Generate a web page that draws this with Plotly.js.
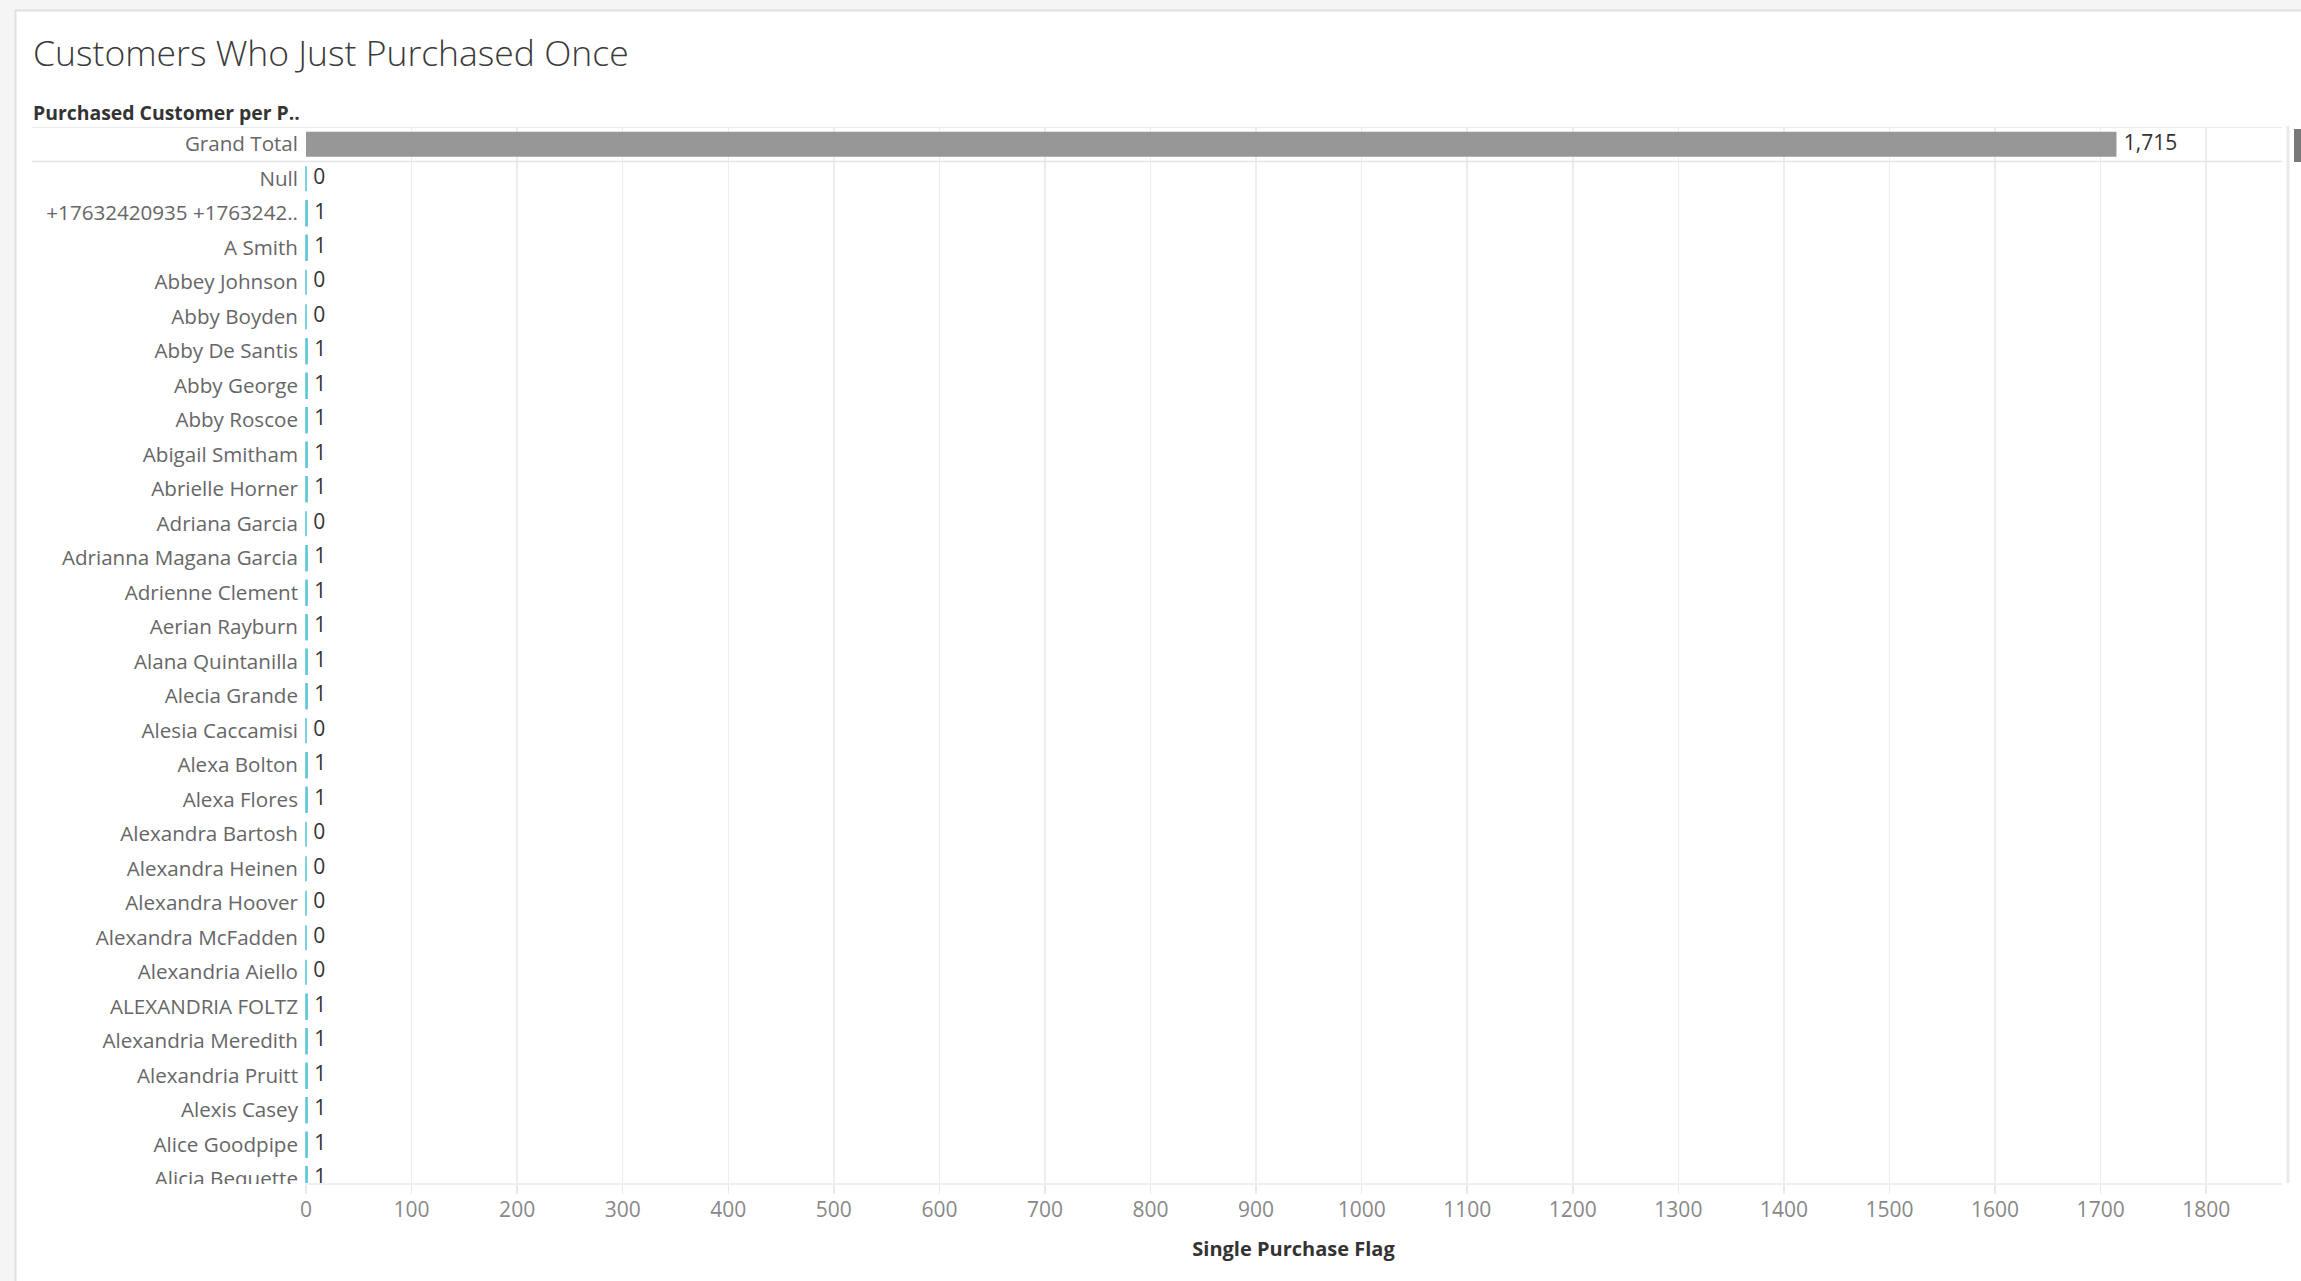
<!DOCTYPE html>
<html>
<head>
<meta charset="utf-8">
<script src="https://cdn.plot.ly/plotly-3.0.1.min.js"></script>
<style>
  html, body { margin: 0; padding: 0; background: #ffffff; }
  #chart { width: 2301px; height: 1281px; }
</style>
</head>
<body>
<div id="chart"></div>
<script>
// ---- data ----
const grandTotalLabel = 'Grand Total';
const grandTotalValue = 1715;

const customerNames = [
  'Null',
  '+17632420935 +1763242..',
  'A Smith',
  'Abbey Johnson',
  'Abby Boyden',
  'Abby De Santis',
  'Abby George',
  'Abby Roscoe',
  'Abigail Smitham',
  'Abrielle Horner',
  'Adriana Garcia',
  'Adrianna Magana Garcia',
  'Adrienne Clement',
  'Aerian Rayburn',
  'Alana Quintanilla',
  'Alecia Grande',
  'Alesia Caccamisi',
  'Alexa Bolton',
  'Alexa Flores',
  'Alexandra Bartosh',
  'Alexandra Heinen',
  'Alexandra Hoover',
  'Alexandra McFadden',
  'Alexandria Aiello',
  'ALEXANDRIA FOLTZ',
  'Alexandria Meredith',
  'Alexandria Pruitt',
  'Alexis Casey',
  'Alice Goodpipe',
  'Alicia Bequette'
];

const singlePurchaseFlag = [
  0, 1, 1, 0, 0, 1, 1, 1, 1, 1,
  0, 1, 1, 1, 1, 1, 0, 1, 1, 0,
  0, 0, 0, 0, 1, 1, 1, 1, 1, 1
];

const xTickValues = [0, 100, 200, 300, 400, 500, 600, 700, 800, 900,
                     1000, 1100, 1200, 1300, 1400, 1500, 1600, 1700, 1800];

// ---- geometry ----
const W = 2301, H = 1281;
const M = { l: 305, r: 19, t: 127, b: 98 };
const PW = W - M.l - M.r;
const PH = H - M.t - M.b;
// pixel -> paper coordinates
const px = x => (x - M.l) / PW;
const py = y => (H - M.b - y) / PH;

const FONT = 'Open Sans, Noto Sans, sans-serif';
const TEAL = '#5cc6da';
const GREY_BAR = '#979797';

const allCategories = [grandTotalLabel].concat(customerNames);
const allValues = [grandTotalValue].concat(singlePurchaseFlag);
const allText = allValues.map(v => v.toLocaleString('en-US'));

const traces = [
  {
    type: 'bar',
    orientation: 'h',
    y: [grandTotalLabel],
    x: [grandTotalValue],
    width: 0.72,
    marker: { color: GREY_BAR },
    hoverinfo: 'skip',
    showlegend: false
  },
  {
    type: 'bar',
    orientation: 'h',
    y: customerNames,
    x: singlePurchaseFlag,
    width: 0.72,
    marker: { color: TEAL, line: { color: TEAL, width: 1.6 } },
    hoverinfo: 'skip',
    showlegend: false
  },
  {
    // value labels; the invisible marker keeps a small gap after each bar end
    type: 'scatter',
    mode: 'markers+text',
    y: allCategories,
    x: allValues,
    text: allText,
    textposition: 'middle right',
    marker: { size: 10, color: 'rgba(0,0,0,0)' },
    textfont: { family: FONT, size: 21, color: '#333333' },
    cliponaxis: true,
    hoverinfo: 'skip',
    showlegend: false
  }
];

const shapes = [
  // outer frame background (left and top)
  { type: 'rect', xref: 'paper', yref: 'paper', x0: px(0), x1: px(15), y0: py(0), y1: py(H),
    fillcolor: '#f5f5f5', line: { width: 0 }, layer: 'above' },
  { type: 'rect', xref: 'paper', yref: 'paper', x0: px(0), x1: px(W), y0: py(0), y1: py(10),
    fillcolor: '#f5f5f5', line: { width: 0 }, layer: 'above' },
  { type: 'line', xref: 'paper', yref: 'paper', x0: px(15.5), x1: px(15.5), y0: py(10), y1: py(H),
    line: { color: '#e0e0e0', width: 2 }, layer: 'above' },
  { type: 'line', xref: 'paper', yref: 'paper', x0: px(15), x1: px(W), y0: py(10.5), y1: py(10.5),
    line: { color: '#e0e0e0', width: 2 }, layer: 'above' },
  // grand total row dividers
  { type: 'line', xref: 'paper', yref: 'y', x0: px(32), x1: 1, y0: -0.5, y1: -0.5,
    line: { color: '#e4e4e4', width: 1.5 }, layer: 'above' },
  { type: 'line', xref: 'paper', yref: 'y', x0: px(32), x1: 1, y0: 0.5, y1: 0.5,
    line: { color: '#e4e4e4', width: 1.5 }, layer: 'above' },
  // scroll track and thumb
  { type: 'line', xref: 'paper', yref: 'paper', x0: px(2288), x1: px(2288), y0: py(126), y1: py(1183),
    line: { color: '#eaeaea', width: 3 }, layer: 'above' },
  { type: 'rect', xref: 'paper', yref: 'paper', x0: px(2294), x1: px(2306), y0: py(129), y1: py(162),
    fillcolor: '#787878', line: { width: 0 }, layer: 'above' },
  // row labels are cut off at the bottom edge of the pane
  { type: 'rect', xref: 'paper', yref: 'paper', x0: px(20), x1: px(302), y0: py(1184), y1: py(1200),
    fillcolor: '#ffffff', line: { width: 0 }, layer: 'above' }
];

const layout = {
  width: W,
  height: H,
  margin: { l: M.l, r: M.r, t: M.t, b: M.b, pad: 0 },
  paper_bgcolor: '#ffffff',
  plot_bgcolor: '#ffffff',
  font: { family: FONT, color: '#666666' },
  barmode: 'overlay',
  showlegend: false,
  title: {
    text: 'Customers Who Just Purchased Once',
    xref: 'container', x: 33 / W, xanchor: 'left',
    yref: 'container', y: 1 - 54 / H, yanchor: 'middle',
    font: { family: FONT, size: 35.5, color: '#3a3a3a', weight: 300 }
  },
  xaxis: {
    range: [-0.95, 1871.8],
    tickmode: 'array',
    tickvals: xTickValues,
    ticktext: xTickValues.map(String),
    showgrid: true,
    gridcolor: '#ededed',
    gridwidth: 1.5,
    zeroline: false,
    showline: true,
    linecolor: '#efefef',
    linewidth: 1.5,
    ticks: 'outside',
    ticklen: 9,
    tickwidth: 1.5,
    tickcolor: '#e8e8e8',
    ticklabelstandoff: -2,
    tickfont: { family: FONT, size: 21, color: '#888888' },
    title: {
      text: 'Single Purchase Flag',
      standoff: 20,
      font: { family: FONT, size: 20, color: '#333333', weight: 'bold' }
    },
    fixedrange: true
  },
  yaxis: {
    type: 'category',
    categoryorder: 'array',
    categoryarray: allCategories,
    range: [30.11, -0.5],
    showgrid: false,
    zeroline: false,
    showline: false,
    ticks: '',
    ticklabelstandoff: 6,
    tickfont: { family: FONT, size: 20.6, color: '#666666' },
    fixedrange: true
  },
  annotations: [
    {
      text: 'Purchased Customer per P..',
      xref: 'paper', x: px(31), xanchor: 'left',
      yref: 'paper', y: py(112), yanchor: 'middle',
      showarrow: false,
      font: { family: FONT, size: 19.4, color: '#333333', weight: 'bold' }
    }
  ],
  shapes: shapes
};

Plotly.newPlot('chart', traces, layout, { displayModeBar: false, staticPlot: true });
</script>
</body>
</html>
